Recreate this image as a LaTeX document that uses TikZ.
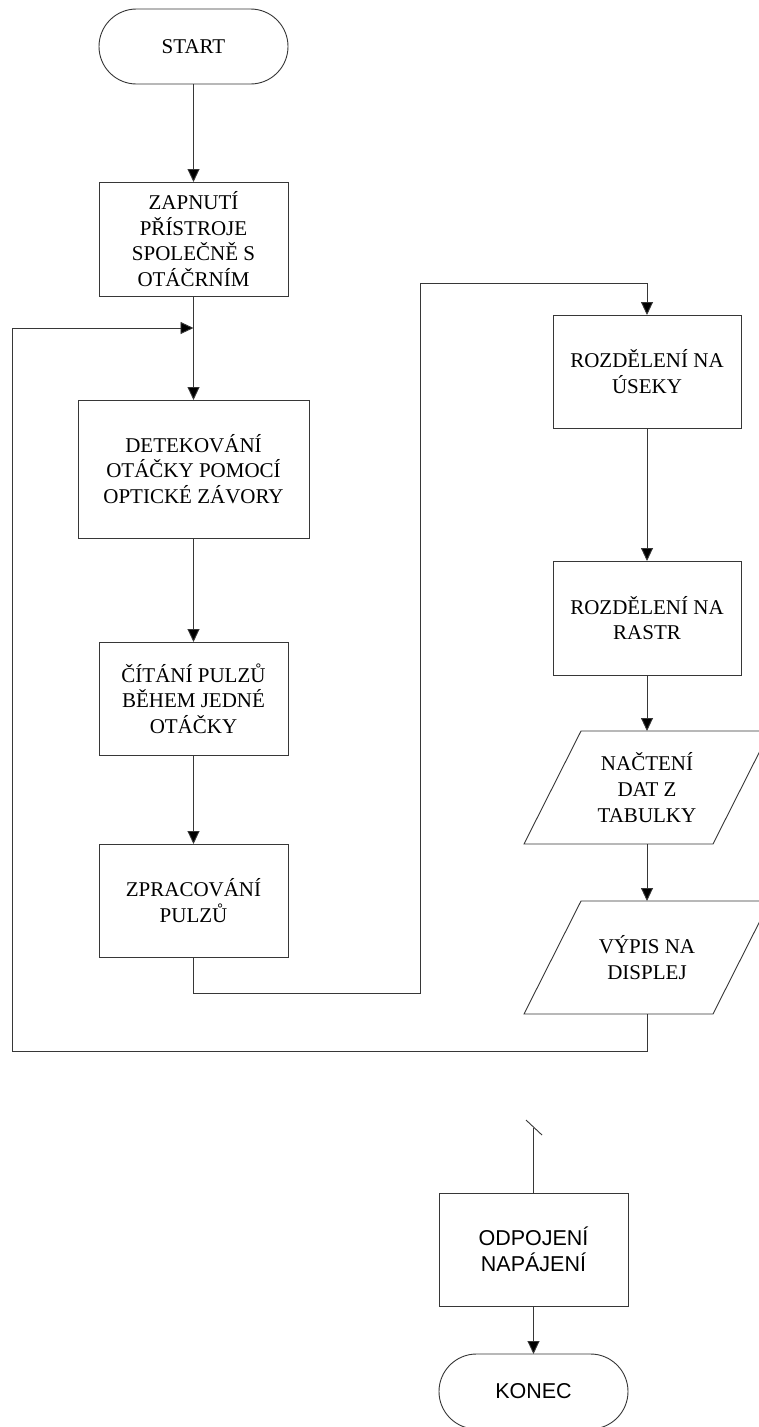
\documentclass[tikz,border=0pt]{standalone}
\usepackage{fontspec}
\setmainfont{Liberation Serif}
\newfontfamily\arialf{Liberation Sans}
\usetikzlibrary{arrows.meta,calc}
\definecolor{linec}{RGB}{55,55,55}
\begin{document}
\begin{tikzpicture}[x=1pt,y=-1pt,
  every node/.style={inner sep=0pt,outer sep=0pt},
  txt/.style={align=center,font=\fontsize{21}{25.7}\selectfont},
  stxt/.style={align=center,font=\arialf\fontsize{21.5}{26}\selectfont},
  procbox/.style={draw=linec,line width=0.9pt,minimum width=189pt,minimum height=113pt},
  termbox/.style={draw=linec,line width=0.9pt,rounded corners=37.5pt,minimum width=189pt,minimum height=75pt},
  iobox/.style={minimum width=189pt,minimum height=113pt},
  conn/.style={draw=linec,line width=0.9pt},
  arr/.style={conn,-{Triangle[width=12pt,length=13pt,fill=black]}}]
\useasboundingbox (0,0) rectangle (758,1427);
\fill[white] (0,0) rectangle (758,1427);

% left column
\node[termbox,txt] (start) at (193.5,46.5) {START};
\node[procbox,txt,minimum height=114pt] (zap) at (193.5,239) {ZAPNUTÍ\\PŘÍSTROJE\\SPOLEČNĚ S\\OTÁČRNÍM};
\node[procbox,txt,minimum width=231pt,minimum height=138pt] (det) at (193.5,469) {DETEKOVÁNÍ\\OTÁČKY POMOCÍ\\OPTICKÉ ZÁVORY};
\node[procbox,txt] (cit) at (193.5,698.5) {ČÍTÁNÍ PULZŮ\\BĚHEM JEDNÉ\\OTÁČKY};
\node[procbox,txt] (zpr) at (193.5,900.5) {ZPRACOVÁNÍ\\PULZŮ};

% right column
\node[procbox,txt,minimum width=188pt] (roz1) at (647,371.5) {ROZDĚLENÍ NA\\ÚSEKY};
\node[procbox,txt,minimum width=188pt,minimum height=114pt] (roz2) at (647,618) {ROZDĚLENÍ NA\\RASTR};
\node[iobox,txt] (nac) at (647,787.5) {NAČTENÍ\\DAT Z\\TABULKY};
\node[iobox,txt] (vyp) at (647,957.5) {VÝPIS NA\\DISPLEJ};
\foreach \n in {nac,vyp}{
  \draw[linec,line width=0.9pt] ($(\n.north west)+(28.5,0)$) -- ($(\n.north east)+(28.5,0)$)
    -- ($(\n.south east)+(-28.5,0)$) -- ($(\n.south west)+(-28.5,0)$) -- cycle;
}

% bottom part
\node[procbox,stxt] (odp) at (533.5,1249.5) {ODPOJENÍ\\NAPÁJENÍ};
\node[termbox,stxt] (konec) at (533.5,1391.5) {KONEC};

% coordinates
\coordinate (m1) at (193.5,328);
\coordinate (l1) at (12,328);
\coordinate (l2) at (12,1051);
\coordinate (l3) at (647,1051);
\coordinate (j1) at (193.5,993);
\coordinate (j2) at (420,993);
\coordinate (j3) at (420,283);
\coordinate (j4) at (647,283);
\coordinate (ot) at (533.5,1128);
\coordinate (s1) at (526,1120);
\coordinate (s2) at (542,1135);

% connectors
\draw[arr] (start.south) -- (zap.north);
\draw[conn] (zap.south) -- (m1);
\draw[arr] (m1) -- (det.north);
\draw[arr] (det.south) -- (cit.north);
\draw[arr] (cit.south) -- (zpr.north);
\draw[arr] (zpr.south) -- (j1) -- (j2) -- (j3) -- (j4) -- (roz1.north);
\draw[arr] (roz1.south) -- (roz2.north);
\draw[arr] (roz2.south) -- (nac.north);
\draw[arr] (nac.south) -- (vyp.north);
\draw[arr] (vyp.south) -- (l3) -- (l2) -- (l1) -- (m1);
\draw[conn] (ot) -- (odp.north);
\draw[conn] (s1) -- (s2);
\draw[arr] (odp.south) -- (konec.north);
\end{tikzpicture}
\end{document}
